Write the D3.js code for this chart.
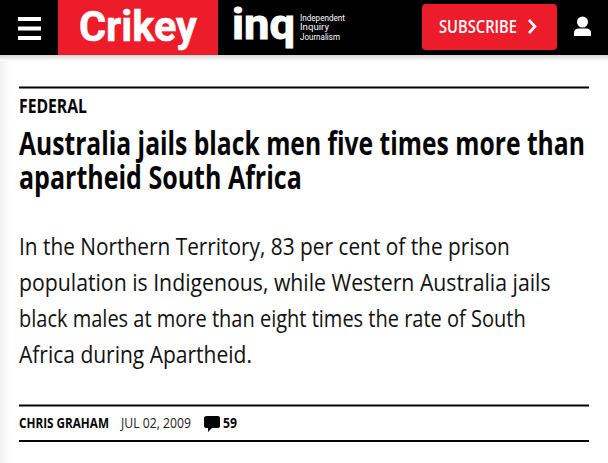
<!DOCTYPE html>
<html>
<head>
<meta charset="utf-8">
<script src="https://cdn.jsdelivr.net/npm/d3@7"></script>
<style>
html, body { margin: 0; padding: 0; background: #fff; overflow: hidden; }
svg { display: block; }
</style>
</head>
<body>
<script>
const categoryLabel = "FEDERAL";
const titleLines = ["Australia jails black men five times more than", "apartheid South Africa"];
const bodyLines = [
    "In the Northern Territory, 83 per cent of the prison",
    "population is Indigenous, while Western Australia jails",
    "black males at more than eight times the rate of South",
    "Africa during Apartheid."
];
const taglineLines = ["Independent", "Inquiry", "Journalism"];
const author = "CHRIS GRAHAM";
const dateLabel = "JUL 02, 2009";
const commentCount = "59";

const width = 608, height = 463;
const red = "#ed1c2b";
const ink = "#050505";

const svg = d3.select("body").append("svg").attr("width", width).attr("height", height);

// page shadow down the left and under the header
const defs = svg.append("defs");
const shadeLeft = defs.append("linearGradient").attr("id", "shade-left");
shadeLeft.append("stop").attr("offset", 0).attr("stop-color", "#f1f1f1");
shadeLeft.append("stop").attr("offset", 1).attr("stop-color", "#fff");
const shadeTop = defs.append("linearGradient").attr("id", "shade-top").attr("x2", 0).attr("y2", 1);
shadeTop.append("stop").attr("offset", 0).attr("stop-color", "#d6d6d6");
shadeTop.append("stop").attr("offset", 1).attr("stop-color", "#fff");

svg.append("rect").attr("y", 55).attr("width", 10).attr("height", height - 55).attr("fill", "url(#shade-left)");
svg.append("rect").attr("y", 55).attr("width", width).attr("height", 6).attr("fill", "url(#shade-top)");

// header
svg.append("rect").attr("width", width).attr("height", 55).attr("fill", "#000");
svg.append("rect").attr("x", 58).attr("width", 160).attr("height", 55).attr("fill", red);
svg.append("rect").attr("x", 422).attr("y", 4).attr("width", 135).attr("height", 46).attr("rx", 4).attr("fill", red);

// squeezes a line horizontally so it fills the width it has in the page
function textLine(parent, str, x, y, targetWidth, font, size, weight, fill) {
    const t = parent.append("text")
        .attr("y", y)
        .attr("font-family", font)
        .attr("font-size", size)
        .attr("font-weight", weight)
        .attr("fill", fill)
        .text(str);
    const sx = targetWidth / t.node().getComputedTextLength();
    t.attr("transform", `translate(${x},0) scale(${sx},1)`);
    return t;
}

// hamburger
svg.selectAll(".burger").data(d3.range(3)).join("rect")
    .attr("class", "burger")
    .attr("x", 18).attr("width", 23).attr("height", 4)
    .attr("y", d => 17 + d * 9.5)
    .attr("fill", "#fff");

textLine(svg, "Crikey", 79, 41, 118, "Roboto", 43, 700, "#fff")
    .attr("stroke", "#fff").attr("stroke-width", 0.6);
textLine(svg, "inq", 232, 39, 63, "Roboto", 42, 700, "#fff")
    .attr("stroke", "#fff").attr("stroke-width", 1);

const tagY = d3.scaleLinear().domain([0, 2]).range([21, 40]);
const tagWidths = d3.scaleOrdinal().domain(taglineLines).range([45, 29, 40]);
taglineLines.forEach((d, i) => textLine(svg, d, 300, tagY(i), tagWidths(d), "Roboto", 9, 400, "#fff"));

textLine(svg, "SUBSCRIBE", 439, 33, 78, "Open Sans", 18, 600, "#fff");
svg.append("path").attr("d", "M529,20 L535,26.5 L529,33")
    .attr("fill", "none").attr("stroke", "#fff").attr("stroke-width", 2.6);

// user icon
svg.append("circle").attr("cx", 582.5).attr("cy", 22).attr("r", 5.5).attr("fill", "#fff");
svg.append("path").attr("d", "M574,36 V33 Q574,28.5 579,28.5 H586 Q591,28.5 591,33 V36 Z").attr("fill", "#fff");

// rules
svg.selectAll(".rule").data([87.5, 405.5, 441]).join("line")
    .attr("class", "rule")
    .attr("x1", 19).attr("x2", 589)
    .attr("y1", d => d).attr("y2", d => d)
    .attr("stroke", ink).attr("stroke-width", 2);

// article text
textLine(svg, categoryLabel, 19, 113, 68, "Open Sans", 20, 700, ink);

const titleY = d3.scaleLinear().domain([0, 1]).range([155, 189]);
const titleWidths = d3.scaleOrdinal().domain(titleLines).range([566, 283]);
titleLines.forEach((d, i) => textLine(svg, d, 19, titleY(i), titleWidths(d), "Open Sans", 33, 700, ink));

const bodyY = d3.scaleLinear().domain([0, 3]).range([255, 363]);
const bodyWidths = d3.scaleOrdinal().domain(bodyLines).range([491, 532, 507, 233]);
bodyLines.forEach((d, i) => textLine(svg, d, 19, bodyY(i), bodyWidths(d), "Open Sans", 23, 400, "#111"));

// byline
textLine(svg, author, 19, 428, 90, "Open Sans", 14, 700, ink);
textLine(svg, dateLabel, 121, 428, 70, "Open Sans", 14, 400, "#222");
svg.append("path").attr("d", "M207,416 H218 Q220,416 220,418 V426 Q220,428 218,428 H212 L208,432 V428 H207 Q204,428 204,426 V418 Q204,416 207,416 Z").attr("fill", ink);
textLine(svg, commentCount, 223, 428, 14, "Open Sans", 14, 700, ink);
</script>
</body>
</html>
